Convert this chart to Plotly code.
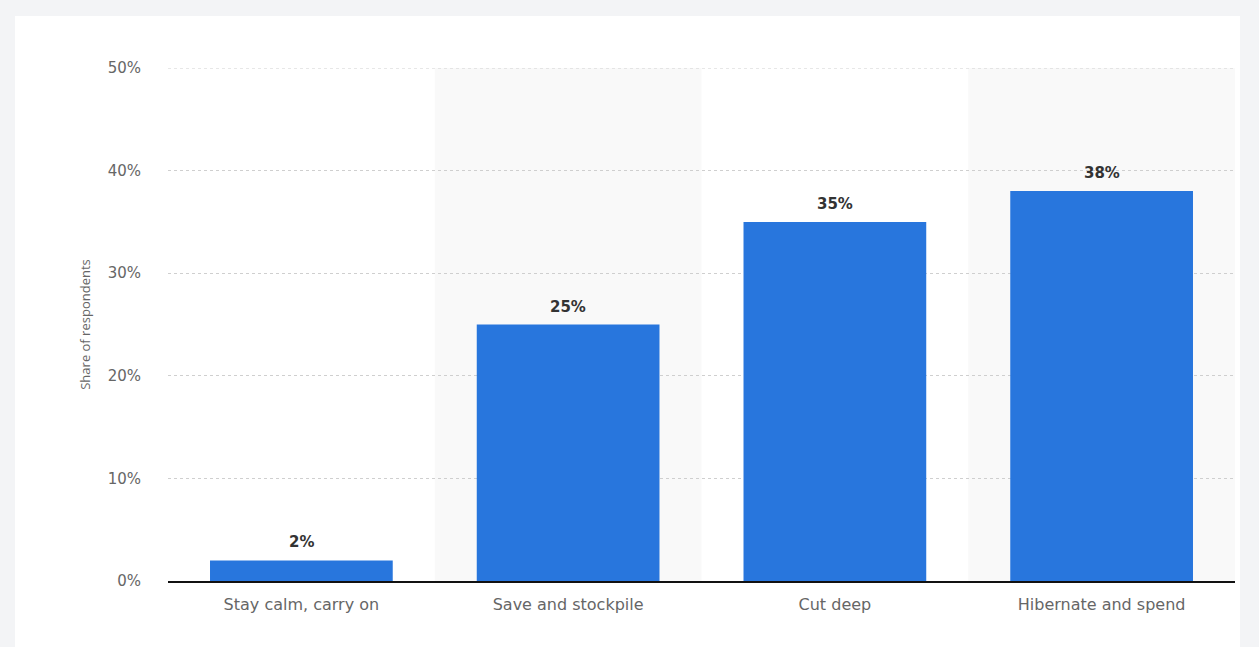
import plotly.graph_objects as go

categories = ["Stay calm, carry on", "Save and stockpile", "Cut deep", "Hibernate and spend"]
values = [2, 25, 35, 38]
tick_vals = [0, 10, 20, 30, 40, 50]
tick_text = ["0%", "10%", "20%", "30%", "40%", "50%"]

BAR = "#2876DD"
GRID = "#cfcfcf"

fig = go.Figure()
fig.add_trace(go.Bar(
    x=categories, y=values, marker=dict(color=BAR, line=dict(width=0)),
    width=0.685, hoverinfo="skip",
))

for c, v in zip(categories, values):
    fig.add_annotation(x=c, y=v, text=f"<b>{v}%</b>", showarrow=False,
                       yanchor="bottom", yshift=7,
                       font=dict(family="DejaVu Sans", size=15, color="#333333"))

shapes = [
    dict(type="rect", xref="paper", yref="paper", x0=-0.1434, x1=1.0047, y0=-0.3, y1=1.1014,
         fillcolor="white", line=dict(width=0), layer="below"),
]
for i in (1, 3):
    shapes.append(dict(type="rect", xref="x", yref="paper", x0=i - 0.5, x1=i + 0.5, y0=0, y1=1,
                       fillcolor="#f9f9f9", line=dict(width=0), layer="below"))
# top gridline (50%) which plotly omits at the range edge
shapes.append(dict(type="line", xref="paper", yref="y", x0=0, x1=1, y0=tick_vals[-1], y1=tick_vals[-1],
                   line=dict(color=GRID, width=1, dash="dot"), layer="below"))

fig.update_layout(
    width=1259, height=647,
    margin=dict(l=168, r=24, t=68, b=66),
    paper_bgcolor="#f3f4f6",
    plot_bgcolor="rgba(0,0,0,0)",
    showlegend=False,
    shapes=shapes,
    bargap=0.3,
    font=dict(family="DejaVu Sans", color="#666666"),
)
fig.update_xaxes(
    showline=True, linecolor="#111111", linewidth=1.5,
    showgrid=False, ticks="outside", ticklen=8, tickcolor="rgba(0,0,0,0)",
    tickfont=dict(family="DejaVu Sans", size=16, color="#666666"),
    range=[-0.5, 3.5],
)
fig.update_yaxes(
    range=[0, 50], tickvals=tick_vals, ticktext=tick_text,
    showgrid=True, gridcolor=GRID, griddash="dot", gridwidth=1,
    zeroline=False, showline=False,
    ticks="outside", ticklen=23, tickcolor="rgba(0,0,0,0)",
    tickfont=dict(family="DejaVu Sans", size=15, color="#666666"),
    title=dict(text="Share of respondents", standoff=14,
               font=dict(family="Open Sans", size=13, color="#666666")),
)

fig.write_html("out.html")
